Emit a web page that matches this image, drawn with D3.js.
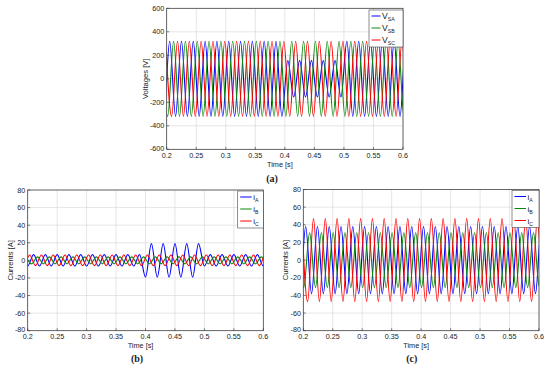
<!DOCTYPE html>
<html>
<head>
<meta charset="utf-8">
<script src="https://cdn.jsdelivr.net/npm/d3@7"></script>
<style>
body{margin:0;background:#fff}
text{font-family:"Liberation Sans",Arial,sans-serif}
</style>
</head>
<body>
<div id="chart"></div>
<script>

// ---- data ----
var timeTicks = [0.2,0.25,0.3,0.35,0.4,0.45,0.5,0.55,0.6];
var voltTicks = [-600,-400,-200,0,200,400,600];
var currTicks = [-80,-60,-40,-20,0,20,40,60,80];

var halfPeriod = 0.01; // 50 Hz, time between a peak and the next trough
var tStop = 0.62;

// (a) source voltages: time of the first positive peak of each phase
var vSubs      = ["SA","SB","SC"];
var vFirstPeak = [0.185, 0.1917, 0.1983];
// peak envelopes, [from time, peak value]
var vsaEnv = [[0.1, 320], [0.4, 155], [0.5, 320]];
var vsbEnv = [[0.1, 320]];
var vscEnv = [[0.1, 320]];

// (b) load currents
var iSubs       = ["A","B","C"];
var ibFirstPeak = [0.19, 0.1967, 0.1833];
var ibaEnv = [[0.1, 6.5], [0.399, 19], [0.495, 6.5]];
var ibbEnv = [[0.1, 4]];
var ibcEnv = [[0.1, 6]];

// (c) currents
var icFirstPeak = [0.184, 0.1907, 0.1973];
var icaEnv = [[0.1, 38]];
var icbEnv = [[0.1, 31]];
var iccEnv = [[0.1, 47]];

var colors = ["#0000ff","#0a8a0a","#ff0000"];

// ---- layout ----
var W = 550, H = 369;

var panels = [
	{id:"a", x0:166.7, x1:403, y0:8.3, y1:149.3, dom:[-600,600], yt:voltTicks, ylab:"Voltages [V]", ylabX:145,
	 tag:"(a)", tagX:272, tagY:182, leg:{x:369, y:10, w:34, h:37, ll:9, fs:8.6}, sym:"V", subs:vSubs,
	 first:vFirstPeak, env:[vsaEnv,vsbEnv,vscEnv]},
	{id:"b", x0:27.7, x1:263.3, y0:190, y1:330.7, dom:[-80,80], yt:currTicks, ylab:"Currents [A]", ylabX:10.5,
	 tag:"(b)", tagX:137, tagY:362, leg:{x:237.7, y:191, w:25.6, h:37, ll:11.5, fs:8}, sym:"i", subs:iSubs,
	 first:ibFirstPeak, env:[ibaEnv,ibbEnv,ibcEnv]},
	{id:"c", x0:303.3, x1:539, y0:189.5, y1:330.7, dom:[-80,80], yt:currTicks, ylab:"Currents [A]", ylabX:285.5,
	 tag:"(c)", tagX:411.7, tagY:362, leg:{x:512, y:190.5, w:27, h:37, ll:11.5, fs:8}, sym:"i", subs:iSubs,
	 first:icFirstPeak, env:[icaEnv,icbEnv,iccEnv]}
];

var svg = d3.select('#chart').append('svg')
	.attr('width',W)
	.attr('height',H)
	.style('background','#fff');

function envAt(env, t){
	var v = env[0][1];
	env.forEach(function(e){ if (t >= e[0]) v = e[1]; });
	return v;
}

// peaks alternate in sign every half period
function peaks(t0, env){
	var n = Math.ceil((tStop - t0)/halfPeriod);
	return d3.range(n+1).map(function(j){
		var t = t0 + j*halfPeriod;
		return [t, (j%2 ? -1 : 1)*envAt(env,t)];
	});
}

panels.forEach(function(p){
	var x = d3.scaleLinear().domain([0.2,0.6]).range([p.x0,p.x1]);
	var y = d3.scaleLinear().domain(p.dom).range([p.y1,p.y0]);
	var g = svg.append('g');

	//---grid---
	g.selectAll('.gx').data(timeTicks).enter().append('line')
		.attr('x1',function(d){return x(d);}).attr('x2',function(d){return x(d);})
		.attr('y1',p.y0).attr('y2',p.y1)
		.style('stroke','#d4d4d4').style('stroke-width',0.6);
	g.selectAll('.gy').data(p.yt).enter().append('line')
		.attr('x1',p.x0).attr('x2',p.x1)
		.attr('y1',function(d){return y(d);}).attr('y2',function(d){return y(d);})
		.style('stroke','#d4d4d4').style('stroke-width',0.6);

	//---waveforms---
	g.append('clipPath').attr('id','clip'+p.id).append('rect')
		.attr('x',p.x0).attr('y',p.y0).attr('width',p.x1-p.x0).attr('height',p.y1-p.y0);

	var line = d3.line()
		.x(function(d){return x(d[0]);})
		.y(function(d){return y(d[1]);})
		.curve(d3.curveMonotoneX);

	p.first.forEach(function(t0,i){
		g.append('path')
			.attr('d',line(peaks(t0,p.env[i])))
			.attr('clip-path','url(#clip'+p.id+')')
			.style('fill','none')
			.style('stroke',colors[i])
			.style('stroke-width',1.1);
	});

	//---axes box and ticks---
	g.append('rect')
		.attr('x',p.x0).attr('y',p.y0).attr('width',p.x1-p.x0).attr('height',p.y1-p.y0)
		.style('fill','none').style('stroke','#333').style('stroke-width',0.7);

	var tickLen = 2.5;
	g.selectAll('.kx').data(timeTicks).enter().append('line')
		.attr('x1',function(d){return x(d);}).attr('x2',function(d){return x(d);})
		.attr('y1',p.y1).attr('y2',p.y1-tickLen)
		.style('stroke','#333').style('stroke-width',0.6);
	g.selectAll('.ky').data(p.yt).enter().append('line')
		.attr('x1',p.x0).attr('x2',p.x0+tickLen)
		.attr('y1',function(d){return y(d);}).attr('y2',function(d){return y(d);})
		.style('stroke','#333').style('stroke-width',0.6);

	g.selectAll('.tx').data(timeTicks).enter().append('text')
		.attr('x',function(d){return x(d);})
		.attr('y',p.y1+8.6)
		.attr('text-anchor','middle')
		.style('font-size','7.2px').style('fill','#222')
		.text(function(d){return d;});
	g.selectAll('.ty').data(p.yt).enter().append('text')
		.attr('x',p.x0-2.4)
		.attr('y',function(d,i){return y(d)+(i===0 ? 1.6 : 2.5);})
		.attr('text-anchor','end')
		.style('font-size','7.2px').style('fill','#222')
		.text(function(d){return d;});

	g.append('text')
		.attr('x',(p.x0+p.x1)/2 - 5)
		.attr('y',p.y1+17.2)
		.attr('text-anchor','middle')
		.style('font-size','7.3px').style('fill','#222')
		.text('Time [s]');
	g.append('text')
		.attr('transform','translate('+p.ylabX+','+((p.y0+p.y1)/2)+') rotate(-90)')
		.attr('text-anchor','middle')
		.attr('dy','0.35em')
		.style('font-size','7.6px').style('fill','#222')
		.text(p.ylab);

	g.append('text')
		.attr('x',p.tagX).attr('y',p.tagY)
		.attr('text-anchor','middle')
		.style('font-family','"Liberation Serif",serif')
		.style('font-weight','bold')
		.style('font-size','10px').style('fill','#222')
		.text(p.tag);

	//---legend---
	var L = p.leg;
	var lg = g.append('g');
	lg.append('rect')
		.attr('x',L.x).attr('y',L.y).attr('width',L.w).attr('height',L.h)
		.style('fill','#fff').style('stroke','#444').style('stroke-width',0.6);
	p.subs.forEach(function(s,i){
		var ly = L.y + 6 + i*12;
		lg.append('line')
			.attr('x1',L.x+2.5).attr('x2',L.x+2.5+L.ll)
			.attr('y1',ly).attr('y2',ly)
			.style('stroke',colors[i]).style('stroke-width',1);
		var t = lg.append('text')
			.attr('x',L.x+4+L.ll).attr('y',ly+3)
			.style('font-size',L.fs+'px').style('fill','#222');
		t.append('tspan').text(p.sym);
		t.append('tspan').attr('dy',2).style('font-size','5.2px').text(s);
	});
});
</script>
</body>
</html>
